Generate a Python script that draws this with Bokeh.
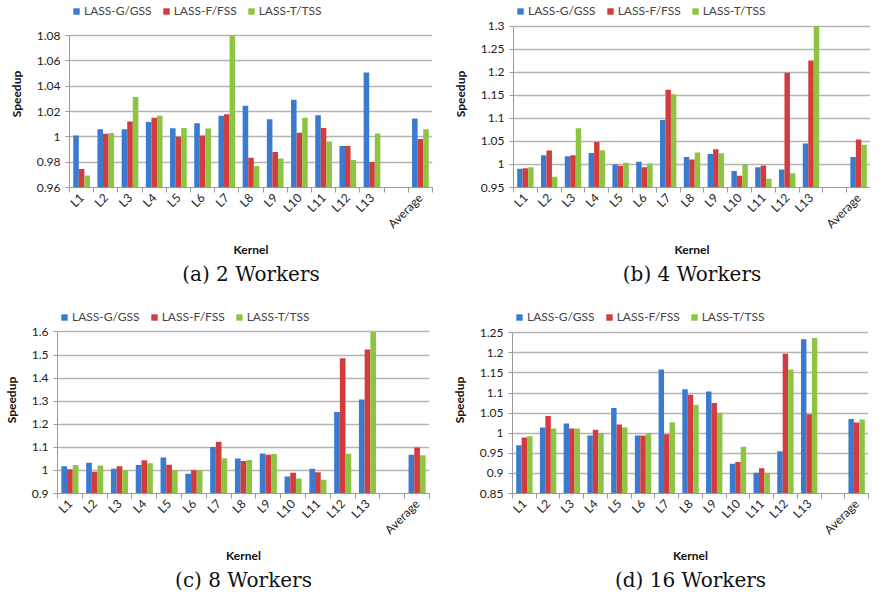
import math
from bokeh.plotting import figure
from bokeh.models import (Legend, LegendItem, FixedTicker, CustomJSTickFormatter, Range1d, Title)
from bokeh.layouts import column, row
from bokeh.embed import file_html
from bokeh.resources import INLINE

# ---------------- data ----------------
kernels = ["L1", "L2", "L3", "L4", "L5", "L6", "L7", "L8", "L9", "L10",
           "L11", "L12", "L13", "", "Average"]
series_names = ["LASS-G/GSS", "LASS-F/FSS", "LASS-T/TSS"]

# 2 workers
w2_gss = [1.001, 1.006, 1.006, 1.0117, 1.0068, 1.0107, 1.0166, 1.0245, 1.014, 1.0293,
          1.017, 0.9928, 1.0508, None, 1.0145]
w2_fss = [0.9746, 1.0025, 1.0122, 1.015, 1.000, 1.001, 1.0178, 0.9835, 0.988, 1.0032,
          1.007, 0.9928, 0.9802, None, 0.9984]
w2_tss = [0.9695, 1.003, 1.0314, 1.0166, 1.007, 1.0066, 1.08, 0.977, 0.983, 1.015,
          0.9963, 0.9817, 1.0027, None, 1.006]

# 4 workers
w4_gss = [0.9905, 1.0197, 1.0178, 1.0249, 1.000, 1.0057, 1.0966, 1.016, 1.0226, 0.9856,
          0.994, 0.989, 1.0453, None, 1.016]
w4_fss = [0.992, 1.0304, 1.0197, 1.0484, 0.997, 0.994, 1.162, 1.0105, 1.0332, 0.9756,
          0.9977, 1.199, 1.2253, None, 1.0539]
w4_tss = [0.9937, 0.9735, 1.0783, 1.0306, 1.0036, 1.002, 1.152, 1.026, 1.024, 1.000,
          0.9692, 0.981, 1.30, None, 1.0425]

# 8 workers
w8_gss = [1.0182, 1.0327, 1.0077, 1.0235, 1.0564, 0.9855, 1.101, 1.0512, 1.0735, 0.9737,
          1.0077, 1.2533, 1.3072, None, 1.0683]
w8_fss = [1.0051, 0.9947, 1.0182, 1.0445, 1.025, 1.0011, 1.1246, 1.0407, 1.0683, 0.9895,
          0.9921, 1.4857, 1.5239, None, 1.0998]
w8_tss = [1.0235, 1.021, 1.0011, 1.0314, 1.000, 1.001, 1.0525, 1.0446, 1.0709, 0.9645,
          0.9593, 1.0722, 1.60, None, 1.0656]

# 16 workers
w16_gss = [0.9704, 1.0145, 1.0242, 0.9943, 1.063, 0.9943, 1.1587, 1.1094, 1.1038, 0.9243,
           0.9018, 0.9552, 1.2338, None, 1.0356]
w16_fss = [0.9891, 1.0428, 1.0121, 1.0089, 1.0218, 0.9943, 0.9976, 1.0956, 1.0755, 0.9284,
           0.913, 1.1976, 1.0473, None, 1.0267]
w16_tss = [0.9923, 1.0121, 1.0121, 1.0008, 1.0145, 1.000, 1.0275, 1.0706, 1.0509, 0.9663,
           0.9018, 1.1588, 1.2371, None, 1.034]

captions = ["(a) 2 Workers", "(b) 4 Workers", "(c) 8 Workers", "(d) 16 Workers"]
x_title = "Kernel"
y_title = "Speedup"
y_ticks_a = [0.96, 0.98, 1.0, 1.02, 1.04, 1.06, 1.08]
y_ticks_b = [0.95, 1.0, 1.05, 1.1, 1.15, 1.2, 1.25, 1.3]
y_ticks_c = [0.9, 1.0, 1.1, 1.2, 1.3, 1.4, 1.5, 1.6]
y_ticks_d = [0.85, 0.9, 0.95, 1.0, 1.05, 1.1, 1.15, 1.2, 1.25]

# ---------------- style ----------------
colors = ["#3b7bcf", "#d23c3c", "#8dc543"]
FONT = "Lato"
GRAY = "#9a9a9a"
bar_w = 0.23
offsets = [-bar_w, 0.0, bar_w]


def make_panel(vals3, ticks, caption, h, bl, br, bt, top_px, bb, kern_off, cap_off):
    # top_px: pixel row where the top tick sits; the frame extends up to bt so the
    # legend can sit above the top gridline inside the frame
    y0, y1 = ticks[0], ticks[-1]
    data_px = h - bb - top_px
    pad = (y1 - y0) * (top_px - bt) / data_px
    p = figure(width=435, height=h, output_backend="svg", toolbar_location=None,
               x_range=Range1d(-0.5, len(kernels) - 0.5), y_range=Range1d(y0, y1 + pad),
               min_border_left=bl, min_border_right=br, min_border_top=bt,
               min_border_bottom=bb, title_location=None)
    p.outline_line_color = None
    rends = []
    for k, (vals, color) in enumerate(zip(vals3, colors)):
        xs = [i + offsets[k] for i, v in enumerate(vals) if v is not None]
        tops = [v for v in vals if v is not None]
        r = p.vbar(x=xs, top=tops, bottom=y0, width=bar_w, fill_color=color,
                   line_color=None)
        rends.append(r)

    legend = Legend(items=[LegendItem(label=n, renderers=[r]) for n, r in zip(series_names, rends)],
                    orientation="horizontal", location="top_left",
                    border_line_color=None, background_fill_alpha=0,
                    glyph_width=8, glyph_height=8, label_standoff=4, spacing=10,
                    padding=0, margin=3, label_text_font=FONT,
                    label_text_font_size="12px", label_height=12)
    p.add_layout(legend, "center")

    # y axis
    p.yaxis.ticker = FixedTicker(ticks=ticks)
    p.yaxis.bounds = (y0, y1)
    p.yaxis.formatter = CustomJSTickFormatter(code="return Number(tick.toFixed(4)).toString();")
    p.yaxis.major_label_text_font = FONT
    p.yaxis.major_label_text_font_size = "12px"
    p.yaxis.major_label_text_color = "#222222"
    p.yaxis.axis_line_color = GRAY
    p.yaxis.major_tick_line_color = GRAY
    p.yaxis.major_tick_out = 4
    p.yaxis.major_tick_in = 0
    p.yaxis.minor_tick_line_color = None
    p.yaxis.major_label_standoff = 5
    p.yaxis.axis_label = y_title
    p.yaxis.axis_label_text_font = FONT
    p.yaxis.axis_label_text_font_size = "12px"
    p.yaxis.axis_label_text_font_style = "bold"
    p.yaxis.axis_label_text_color = "#111111"
    p.yaxis.axis_label_standoff = 10

    # x axis
    p.xaxis.ticker = FixedTicker(ticks=list(range(len(kernels))),
                                 minor_ticks=[i - 0.5 for i in range(len(kernels) + 1)])
    p.xaxis.formatter = CustomJSTickFormatter(args=dict(labels=kernels),
                                              code="return labels[Math.round(tick)];")
    p.xaxis.major_label_orientation = math.pi / 4
    p.xaxis.major_label_text_font = FONT
    p.xaxis.major_label_text_font_size = "12px"
    p.xaxis.major_label_text_color = "#222222"
    p.xaxis.major_tick_line_color = None
    p.xaxis.minor_tick_line_color = GRAY
    p.xaxis.minor_tick_out = 5
    p.xaxis.minor_tick_in = 0
    p.xaxis.axis_line_color = GRAY
    p.xaxis.major_label_standoff = 2

    p.xgrid.visible = False
    p.ygrid.grid_line_color = "#b5b5b5"
    p.ygrid.grid_line_width = 1.3

    p.add_layout(Title(text=x_title, align="center", text_font=FONT, text_font_size="12px",
                       text_font_style="bold", text_color="#111111", standoff=0,
                       offset=kern_off), "below")
    p.add_layout(Title(text=caption, align="center", text_font="DejaVu Serif",
                       text_font_size="20px", text_font_style="normal", text_color="#111111",
                       standoff=6, offset=cap_off), "below")
    return p


pa = make_panel([w2_gss, w2_fss, w2_tss], y_ticks_a, captions[0], 288, 69, 3, 0, 36, 96, -25, -27)
pb = make_panel([w4_gss, w4_fss, w4_tss], y_ticks_b, captions[1], 288, 78, 0, 0, 26, 98, 0, -36)
pc = make_panel([w8_gss, w8_fss, w8_tss], y_ticks_c, captions[2], 306, 55, 6, 7, 35, 93, 0, -23)
pd = make_panel([w16_gss, w16_fss, w16_tss], y_ticks_d, captions[3], 306, 77, 2, 18, 45, 96, -6, -28)

layout = column(row(pa, pb), row(pc, pd))
open("out.html", "w").write(file_html(layout, INLINE))
